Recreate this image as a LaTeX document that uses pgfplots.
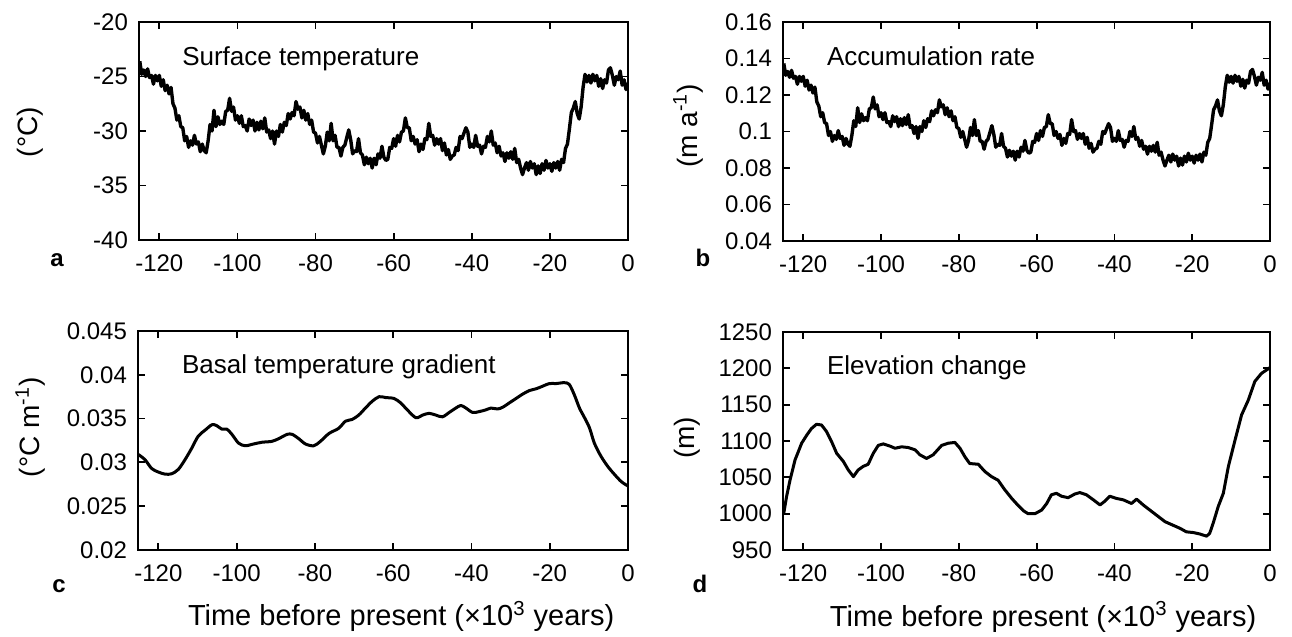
\documentclass[border=0pt]{standalone}
\usepackage{fontspec}
\setmainfont{Liberation Sans}
\usepackage{pgfplots}
\pgfplotsset{compat=1.18}
\pgfplotsset{
 myax/.style={
  scale only axis, xmin=-125.2, xmax=0,
  xtick={-120,-100,-80,-60,-40,-20,0},
  xticklabels={-120,-100,-80,-60,-40,-20,0},
  scaled x ticks=false, scaled y ticks=false,
  tick align=inside, xtick pos=both, ytick pos=both,
  major tick length=3.5pt,
  axis line style={line width=1pt},
  every tick/.append style={line width=0.9pt, black},
  tick label style={font=\fontsize{12}{14}\selectfont},
  xticklabel style={yshift=-4pt},
  yticklabel style={xshift=-2pt},
  clip mode=individual,
  label style={font=\fontsize{14}{16}\selectfont},
 },
 ln/.style={black, line width=1.5pt, mark=none, line join=round},
 lnn/.style={black, line width=1.7pt, mark=none, line join=round},
}
\tikzset{ann/.style={anchor=base west, font=\fontsize{13}{15}\selectfont}}
\begin{document}
\begin{tikzpicture}
\path[use as bounding box] (0,0) rectangle (646pt,318.5pt);
% ---------------- a
\begin{axis}[myax, at={(69.5pt,198.5pt)}, width=244.5pt, height=109pt,
  ymin=-40, ymax=-20, ytick={-40,-35,-30,-25,-20}, yticklabels={-40,-35,-30,-25,-20},
  ylabel={(°C)}, ylabel style={at={(axis description cs:-0.223,0.495)}, anchor=center}]
\addplot[lnn] coordinates {(-125,-23.6)(-124.5,-24.8)(-124,-24.4)(-123.5,-25.0)(-123,-24.3)(-122.5,-25.1)(-122,-24.9)(-121.5,-25.7)(-121,-24.9)(-120.5,-25.4)(-120,-24.9)(-119.5,-25.9)(-119,-25.3)(-118.5,-26.3)(-118,-25.8)(-117.5,-26.6)(-117,-26.0)(-116.5,-27.5)(-116,-27.9)(-115.5,-29.0)(-115,-28.6)(-114.5,-29.6)(-114,-29.7)(-113.5,-30.9)(-113,-30.5)(-112.5,-31.5)(-112,-30.9)(-111.5,-31.3)(-111,-30.4)(-110.5,-31.2)(-110,-31.0)(-109.5,-31.9)(-109,-31.2)(-108.5,-31.8)(-108,-32.0)(-107.5,-30.9)(-107,-29.4)(-106.5,-30.0)(-106,-28.1)(-105.5,-29.6)(-105,-28.7)(-104.5,-29.4)(-104,-29.1)(-103.5,-29.4)(-103,-28.2)(-102.5,-28.1)(-102,-27.0)(-101.5,-28.2)(-101,-27.8)(-100.5,-29.0)(-100,-28.6)(-99.5,-29.3)(-99,-28.6)(-98.5,-29.6)(-98,-29.5)(-97.5,-30.0)(-97,-28.9)(-96.5,-29.5)(-96,-29.0)(-95.5,-30.0)(-95,-29.2)(-94.5,-29.9)(-94,-29.1)(-93.5,-29.8)(-93,-28.8)(-92.5,-30.1)(-92,-29.9)(-91.5,-30.7)(-91,-30.0)(-90.5,-31.2)(-90,-30.0)(-89.5,-30.5)(-89,-29.4)(-88.5,-30.1)(-88,-29.2)(-87.5,-29.5)(-87,-28.4)(-86.5,-28.9)(-86,-28.3)(-85.5,-28.6)(-85,-27.3)(-84.5,-28.0)(-84,-27.8)(-83.5,-28.8)(-83,-28.1)(-82.5,-29.0)(-82,-28.4)(-81.5,-29.4)(-81,-29.0)(-80.5,-30.1)(-80,-30.2)(-79.5,-31.1)(-79,-30.5)(-78.5,-31.3)(-78,-32.1)(-77.5,-31.4)(-77,-30.1)(-76.5,-30.9)(-76,-29.3)(-75.5,-30.9)(-75,-30.4)(-74.5,-31.5)(-74,-31.5)(-73.5,-32.3)(-73,-31.5)(-72.5,-31.3)(-72,-30.6)(-71.5,-29.9)(-71,-30.8)(-70.5,-32.1)(-70,-31.8)(-69.5,-31.9)(-69,-30.7)(-68.5,-32.0)(-68,-32.2)(-67.5,-33.1)(-67,-32.4)(-66.5,-33.0)(-66,-32.5)(-65.5,-33.4)(-65,-32.5)(-64.5,-33.1)(-64,-32.1)(-63.5,-32.5)(-63,-31.4)(-62.5,-32.4)(-62,-32.7)(-61.5,-32.6)(-61,-31.5)(-60.5,-31.6)(-60,-30.7)(-59.5,-31.4)(-59,-30.4)(-58.5,-31.0)(-58,-30.1)(-57.5,-30.0)(-57,-28.8)(-56.5,-29.7)(-56,-29.7)(-55.5,-30.9)(-55,-30.5)(-54.5,-31.2)(-54,-30.8)(-53.5,-31.9)(-53,-31.2)(-52.5,-31.7)(-52,-30.7)(-51.5,-30.8)(-51,-29.3)(-50.5,-30.5)(-50,-30.4)(-49.5,-31.3)(-49,-30.7)(-48.5,-31.2)(-48,-30.7)(-47.5,-31.8)(-47,-31.1)(-46.5,-32.2)(-46,-31.7)(-45.5,-32.6)(-45,-32.3)(-44.5,-32.2)(-44,-31.5)(-43.5,-31.8)(-43,-30.5)(-42.5,-30.7)(-42,-30.2)(-41.5,-29.7)(-41,-30.1)(-40.5,-31.5)(-40,-31.2)(-39.5,-31.5)(-39,-30.4)(-38.5,-31.4)(-38,-31.3)(-37.5,-32.1)(-37,-31.4)(-36.5,-31.5)(-36,-30.5)(-35.5,-31.0)(-35,-30.0)(-34.5,-31.3)(-34,-31.1)(-33.5,-32.0)(-33,-31.4)(-32.5,-32.3)(-32,-32.0)(-31.5,-32.8)(-31,-32.0)(-30.5,-32.5)(-30,-31.9)(-29.5,-32.6)(-29,-31.6)(-28.5,-32.9)(-28,-32.6)(-27.5,-33.4)(-27,-34.0)(-26.5,-33.4)(-26,-32.9)(-25.5,-33.6)(-25,-32.8)(-24.5,-33.4)(-24,-33.0)(-23.5,-34.0)(-23,-33.2)(-22.5,-33.9)(-22,-33.0)(-21.5,-33.6)(-21,-32.7)(-20.5,-33.4)(-20,-33.0)(-19.5,-33.7)(-19,-32.9)(-18.5,-33.4)(-18,-32.8)(-17.5,-33.6)(-17,-32.6)(-16.5,-32.9)(-16,-31.6)(-15.5,-31.2)(-15,-29.8)(-14.5,-28.3)(-14,-27.9)(-13.5,-27.3)(-13,-28.4)(-12.5,-28.9)(-12,-27.8)(-11.5,-26.0)(-11,-24.8)(-10.5,-25.5)(-10,-24.9)(-9.5,-25.6)(-9,-24.8)(-8.5,-25.4)(-8,-24.9)(-7.5,-25.9)(-7,-25.2)(-6.5,-26.1)(-6,-25.3)(-5.5,-25.6)(-5,-24.4)(-4.5,-24.2)(-4,-24.9)(-3.5,-25.8)(-3,-25.0)(-2.5,-25.3)(-2,-24.5)(-1.5,-25.8)(-1,-25.3)(-0.5,-26.2)(0,-25.6)};
\node[ann] at (rel axis cs:0.074,0.80) {Surface temperature};
\end{axis}
% ---------------- b
\begin{axis}[myax, at={(391.5pt,198pt)}, width=243.5pt, height=109.5pt,
  ymin=0.04, ymax=0.16, ytick={0.04,0.06,0.08,0.1,0.12,0.14,0.16}, yticklabels={0.04,0.06,0.08,0.1,0.12,0.14,0.16},
  ylabel={(m a\textsuperscript{-1})}, ylabel style={at={(axis description cs:-0.195,0.525)}, anchor=center}]
\addplot[lnn] coordinates {(-125,0.1373)(-124.5,0.1308)(-124,0.1329)(-123.5,0.1297)(-123,0.1335)(-122.5,0.1292)(-122,0.1302)(-121.5,0.1259)(-121,0.1302)(-120.5,0.1275)(-120,0.1302)(-119.5,0.1248)(-119,0.1281)(-118.5,0.1227)(-118,0.1254)(-117.5,0.1211)(-117,0.1243)(-116.5,0.1162)(-116,0.1140)(-115.5,0.1081)(-115,0.1103)(-114.5,0.1049)(-114,0.1043)(-113.5,0.0978)(-113,0.1000)(-112.5,0.0946)(-112,0.0978)(-111.5,0.0957)(-111,0.1005)(-110.5,0.0962)(-110,0.0973)(-109.5,0.0924)(-109,0.0962)(-108.5,0.0930)(-108,0.0919)(-107.5,0.0978)(-107,0.1059)(-106.5,0.1027)(-106,0.1130)(-105.5,0.1049)(-105,0.1097)(-104.5,0.1059)(-104,0.1076)(-103.5,0.1059)(-103,0.1124)(-102.5,0.1130)(-102,0.1189)(-101.5,0.1124)(-101,0.1146)(-100.5,0.1081)(-100,0.1103)(-99.5,0.1065)(-99,0.1103)(-98.5,0.1049)(-98,0.1054)(-97.5,0.1027)(-97,0.1086)(-96.5,0.1054)(-96,0.1081)(-95.5,0.1027)(-95,0.1070)(-94.5,0.1032)(-94,0.1076)(-93.5,0.1038)(-93,0.1092)(-92.5,0.1022)(-92,0.1032)(-91.5,0.0989)(-91,0.1027)(-90.5,0.0962)(-90,0.1027)(-89.5,0.1000)(-89,0.1059)(-88.5,0.1022)(-88,0.1070)(-87.5,0.1054)(-87,0.1113)(-86.5,0.1086)(-86,0.1119)(-85.5,0.1103)(-85,0.1173)(-84.5,0.1135)(-84,0.1146)(-83.5,0.1092)(-83,0.1130)(-82.5,0.1081)(-82,0.1113)(-81.5,0.1059)(-81,0.1081)(-80.5,0.1022)(-80,0.1016)(-79.5,0.0968)(-79,0.1000)(-78.5,0.0957)(-78,0.0914)(-77.5,0.0951)(-77,0.1022)(-76.5,0.0978)(-76,0.1065)(-75.5,0.0978)(-75,0.1005)(-74.5,0.0946)(-74,0.0946)(-73.5,0.0903)(-73,0.0946)(-72.5,0.0957)(-72,0.0995)(-71.5,0.1032)(-71,0.0984)(-70.5,0.0914)(-70,0.0930)(-69.5,0.0924)(-69,0.0989)(-68.5,0.0919)(-68,0.0908)(-67.5,0.0860)(-67,0.0897)(-66.5,0.0865)(-66,0.0892)(-65.5,0.0843)(-65,0.0892)(-64.5,0.0860)(-64,0.0914)(-63.5,0.0892)(-63,0.0951)(-62.5,0.0897)(-62,0.0881)(-61.5,0.0887)(-61,0.0946)(-60.5,0.0941)(-60,0.0989)(-59.5,0.0951)(-59,0.1005)(-58.5,0.0973)(-58,0.1022)(-57.5,0.1027)(-57,0.1092)(-56.5,0.1043)(-56,0.1043)(-55.5,0.0978)(-55,0.1000)(-54.5,0.0962)(-54,0.0984)(-53.5,0.0924)(-53,0.0962)(-52.5,0.0935)(-52,0.0989)(-51.5,0.0984)(-51,0.1065)(-50.5,0.1000)(-50,0.1005)(-49.5,0.0957)(-49,0.0989)(-48.5,0.0962)(-48,0.0989)(-47.5,0.0930)(-47,0.0968)(-46.5,0.0908)(-46,0.0935)(-45.5,0.0887)(-45,0.0903)(-44.5,0.0908)(-44,0.0946)(-43.5,0.0930)(-43,0.1000)(-42.5,0.0989)(-42,0.1016)(-41.5,0.1043)(-41,0.1022)(-40.5,0.0946)(-40,0.0962)(-39.5,0.0946)(-39,0.1005)(-38.5,0.0951)(-38,0.0957)(-37.5,0.0914)(-37,0.0951)(-36.5,0.0946)(-36,0.1000)(-35.5,0.0973)(-35,0.1027)(-34.5,0.0957)(-34,0.0968)(-33.5,0.0919)(-33,0.0951)(-32.5,0.0903)(-32,0.0919)(-31.5,0.0876)(-31,0.0919)(-30.5,0.0892)(-30,0.0924)(-29.5,0.0887)(-29,0.0941)(-28.5,0.0870)(-28,0.0887)(-27.5,0.0843)(-27,0.0811)(-26.5,0.0843)(-26,0.0870)(-25.5,0.0833)(-25,0.0876)(-24.5,0.0843)(-24,0.0865)(-23.5,0.0811)(-23,0.0854)(-22.5,0.0816)(-22,0.0865)(-21.5,0.0833)(-21,0.0881)(-20.5,0.0843)(-20,0.0865)(-19.5,0.0827)(-19,0.0870)(-18.5,0.0843)(-18,0.0876)(-17.5,0.0833)(-17,0.0887)(-16.5,0.0870)(-16,0.0941)(-15.5,0.0962)(-15,0.1038)(-14.5,0.1119)(-14,0.1140)(-13.5,0.1173)(-13,0.1113)(-12.5,0.1086)(-12,0.1146)(-11.5,0.1243)(-11,0.1308)(-10.5,0.1270)(-10,0.1302)(-9.5,0.1265)(-9,0.1308)(-8.5,0.1275)(-8,0.1302)(-7.5,0.1248)(-7,0.1286)(-6.5,0.1238)(-6,0.1281)(-5.5,0.1265)(-5,0.1329)(-4.5,0.1340)(-4,0.1302)(-3.5,0.1254)(-3,0.1297)(-2.5,0.1281)(-2,0.1324)(-1.5,0.1254)(-1,0.1281)(-0.5,0.1232)(0,0.1265)};
\node[ann] at (rel axis cs:0.076,0.80) {Accumulation rate};
\end{axis}
% ---------------- c
\begin{axis}[myax, at={(69pt,43.5pt)}, width=245pt, height=109.5pt,
  ymin=0.02, ymax=0.045, ytick={0.02,0.025,0.03,0.035,0.04,0.045}, yticklabels={0.02,0.025,0.03,0.035,0.04,0.045},
  ylabel={(°C m\textsuperscript{-1})}, ylabel style={at={(axis description cs:-0.220,0.56)}, anchor=center},
  xlabel={Time before present (×10\textsuperscript{3} years)},
  xlabel style={at={(axis description cs:0.537,-0.347)}, anchor=base, font=\fontsize{14.5}{17}\selectfont}]
\addplot[ln, smooth] coordinates {(-125.1,0.0309)(-123.4,0.0303)(-121.7,0.0293)(-120,0.0289)(-118.3,0.02866)(-116.6,0.0287)(-114.9,0.0292)(-113.2,0.0303)(-111.5,0.0316)(-109.8,0.0330)(-108,0.0337)(-106.3,0.0343)(-105.1,0.0342)(-103.8,0.0338)(-102.5,0.0338)(-101.2,0.0332)(-99.5,0.0322)(-97.8,0.0319)(-95.7,0.0321)(-93.5,0.0323)(-91,0.0324)(-89.3,0.0327)(-87.1,0.0332)(-85.8,0.0332)(-84.1,0.0327)(-82.4,0.0321)(-80.3,0.0319)(-78.6,0.0324)(-76.4,0.0333)(-73.9,0.0339)(-72.2,0.0347)(-70.5,0.0349)(-68.8,0.0354)(-67.1,0.0362)(-65.3,0.0370)(-63.6,0.0375)(-61.9,0.0374)(-59.8,0.0373)(-58.1,0.0368)(-56.4,0.0360)(-54.2,0.0351)(-52.5,0.0354)(-50.8,0.0356)(-49.1,0.0354)(-47.4,0.0352)(-45.7,0.0357)(-44,0.0362)(-42.7,0.0365)(-41.4,0.0362)(-39.7,0.0357)(-38,0.0358)(-36.3,0.0360)(-35,0.0362)(-33.3,0.0361)(-32,0.0363)(-30.3,0.0368)(-28.6,0.0373)(-26.9,0.0378)(-25.2,0.0382)(-23.5,0.0384)(-21.8,0.0387)(-20.1,0.0390)(-18.4,0.0390)(-16.3,0.0391)(-15,0.0389)(-13.7,0.0377)(-12.4,0.0362)(-11.1,0.0351)(-9.8,0.0339)(-8.6,0.0322)(-6.9,0.0307)(-5.1,0.0295)(-3.4,0.0286)(-1.7,0.0278)(0,0.0273)};
\node[ann] at (rel axis cs:0.0755,0.808) {Basal temperature gradient};
\end{axis}
% ---------------- d
\begin{axis}[myax, at={(391.5pt,43.5pt)}, width=243.5pt, height=109pt,
  ymin=950, ymax=1250, ytick={950,1000,1050,1100,1150,1200,1250}, yticklabels={950,1000,1050,1100,1150,1200,1250},
  ylabel={(m)}, ylabel style={at={(axis description cs:-0.197,0.514)}, anchor=center},
  xlabel={Time before present (×10\textsuperscript{3} years)},
  xlabel style={at={(axis description cs:0.534,-0.349)}, anchor=base, font=\fontsize{14.5}{17}\selectfont}]
\addplot[ln] coordinates {(-125,1000.5)(-124.3,1023)(-123.4,1046)(-122.1,1074)(-120.4,1097)(-119.1,1108)(-117.9,1117)(-116.6,1123)(-115.3,1122)(-114,1113)(-112.7,1099)(-111.4,1083)(-109.7,1072)(-108.4,1060)(-107.1,1051)(-105.9,1060)(-104.6,1065)(-103.3,1068)(-102,1083)(-100.7,1094)(-99.4,1096)(-97.7,1093)(-96.4,1090)(-94.7,1092)(-93,1091)(-91.3,1088)(-90,1081)(-88.3,1076)(-86.6,1081)(-84.4,1094)(-82.7,1097)(-81,1098)(-79.7,1090)(-78.4,1078)(-77.2,1069)(-75,1068)(-73.3,1058)(-71.6,1051)(-69.9,1046)(-68.2,1033)(-66.4,1021)(-64.7,1011)(-63.4,1004)(-62.2,1000)(-60.4,1000)(-58.7,1005)(-57.4,1014)(-56.2,1026)(-54.9,1028)(-53.6,1024)(-51.9,1022)(-50.2,1027)(-48.9,1029)(-47.2,1026)(-45.4,1019)(-43.7,1012)(-42.5,1017)(-41.2,1024)(-39.5,1021)(-37.7,1019)(-35.6,1014)(-34.3,1020)(-32.6,1012)(-30.9,1005)(-28.7,996)(-27,989)(-24.9,984)(-23.2,980)(-21.5,975)(-19.7,974)(-18,972)(-16.3,969)(-15.5,973)(-14.6,987)(-13.3,1010)(-12,1028)(-10.7,1065)(-9,1101)(-7.3,1136)(-5.6,1156)(-3.9,1182)(-2.2,1193)(0,1201)};
\node[ann] at (rel axis cs:0.076,0.803) {Elevation change};
\end{axis}
% panel letters
\node[font=\fontsize{12}{14}\selectfont\bfseries, anchor=base] at (28.5pt,185pt) {a};
\node[font=\fontsize{12}{14}\selectfont\bfseries, anchor=base] at (351.5pt,185pt) {b};
\node[font=\fontsize{12}{14}\selectfont\bfseries, anchor=base] at (29.5pt,22pt) {c};
\node[font=\fontsize{12}{14}\selectfont\bfseries, anchor=base] at (350pt,22pt) {d};
\end{tikzpicture}
\end{document}
